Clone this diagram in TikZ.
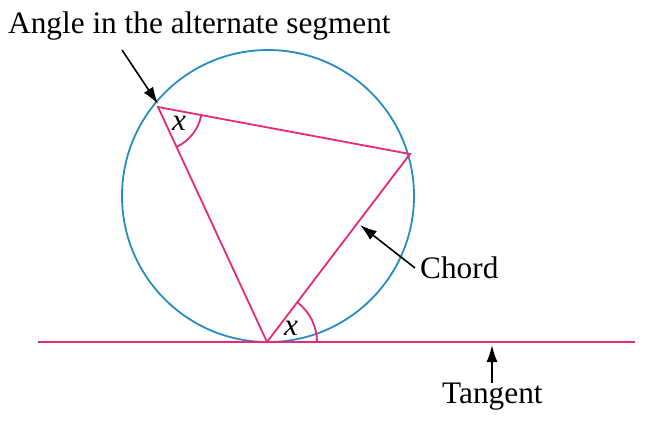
\documentclass[tikz,border=0pt]{standalone}
\usepackage{fontspec}
\setmainfont{Liberation Serif}
\usetikzlibrary{arrows.meta,calc}
\definecolor{circblue}{RGB}{40,140,195}
\definecolor{chordpink}{RGB}{232,40,120}
\tikzset{
  lbl/.style={inner sep=0pt, font=\fontsize{31.3}{36}\selectfont},
  ptr/.style={draw=black, line width=1.6pt, -{Latex[length=17pt,width=11pt]}},
  chordline/.style={draw=chordpink, line width=1.8pt},
  anglearc/.style={draw=chordpink, line width=1.8pt}
}
\begin{document}
\begin{tikzpicture}[x=1pt,y=-1pt]
\useasboundingbox (0,0) rectangle (647,423);
% circle
\coordinate (O) at (268,196);
\draw[circblue, line width=1.8pt] (O) circle[radius=146];
% points
\coordinate (A) at (158,107);
\coordinate (B) at (267,342);
\coordinate (C) at (410,154);
% tangent
\coordinate (TL) at (38,342);
\coordinate (TR) at (635,342);
\draw[chordline] (TL) -- (TR);
% triangle
\draw[chordline] (B) -- (A) -- (C) -- (B);
% angle arcs
\draw[anglearc] ($(A)!44pt!(C)$) arc[start angle={atan2(47,252)}, end angle={atan2(235,109)}, radius=44];
\draw[anglearc] ($(B)+(50,0)$) arc[start angle=0, end angle={atan2(-188,143)}, radius=50];
% labels
\node[lbl, anchor=base] (x1) at (179,130) {\itshape x};
\node[lbl, anchor=base] (x2) at (291,335) {\itshape x};
\node[lbl, anchor=base west] (title) at (8,33) {Angle in the alternate segment};
\node[lbl, anchor=base west] (chord) at (420,278) {Chord};
\node[lbl, anchor=base west] (tangent) at (442,403) {Tangent};
% pointers
\coordinate (p1s) at (122,50);
\coordinate (p1e) at (158,104);
\draw[ptr] (p1s) -- (p1e);
\coordinate (p2s) at (415,268);
\coordinate (p2e) at (360,225);
\draw[ptr] (p2s) -- (p2e);
\coordinate (p3s) at (492,383);
\coordinate (p3e) at (492,345);
\draw[ptr] (p3s) -- (p3e);
\end{tikzpicture}
\end{document}
